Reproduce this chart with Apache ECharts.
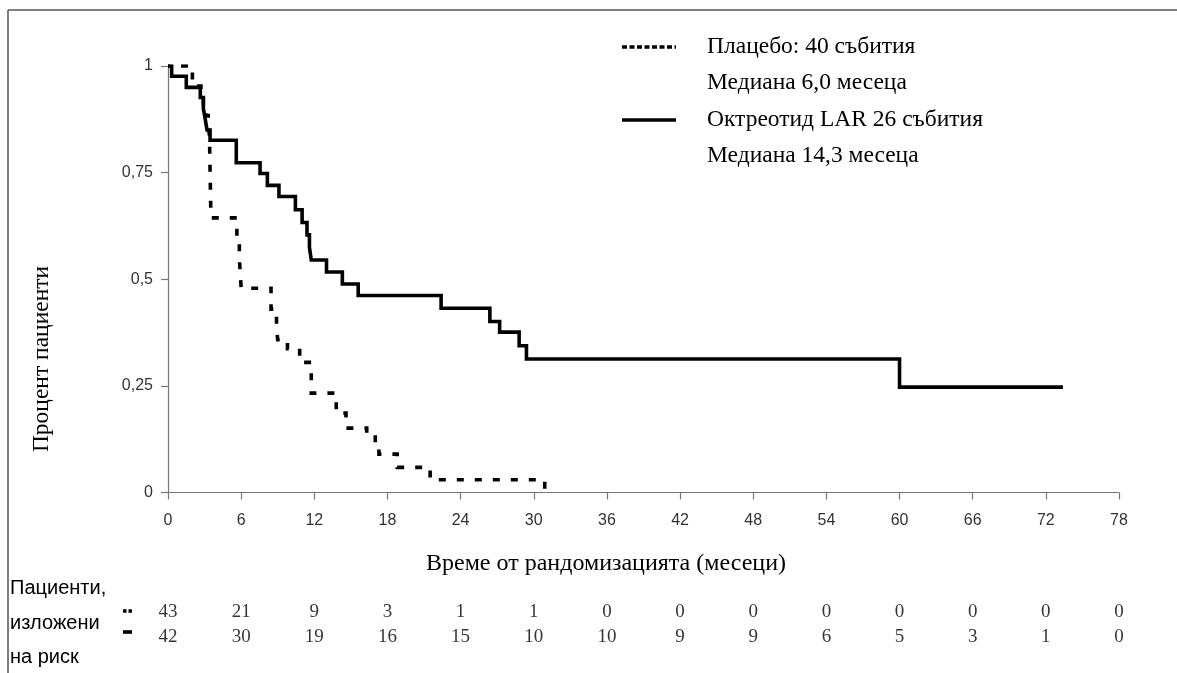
<!DOCTYPE html>
<html>
<head>
<meta charset="utf-8">
<script src="https://cdn.jsdelivr.net/npm/echarts@6/dist/echarts.min.js"></script>
<style>
html,body{margin:0;padding:0;background:#fff;}
#c{width:1177px;height:673px;}
</style>
</head>
<body>
<div id="c"></div>
<script>
// ---- data ----
const octreoTimes = [0, 0.3, 1.5, 2.65, 2.9, 3.05, 3.2, 3.45, 5.6, 7.55, 8.15, 9.1, 10.45, 11.0, 11.4, 11.6, 11.75, 13.0, 14.3, 15.6, 22.4, 26.4, 27.2, 28.8, 29.4, 60.0, 73.4];
const octreoSurv  = [1, 0.976, 0.95, 0.926, 0.90, 0.876, 0.85, 0.826, 0.773, 0.748, 0.72, 0.694, 0.663, 0.633, 0.604, 0.575, 0.545, 0.517, 0.489, 0.462, 0.432, 0.401, 0.376, 0.344, 0.313, 0.247, 0.247];

const placeboTimes = [0, 2.0, 2.7, 2.9, 3.1, 3.3, 3.4, 3.52, 5.65, 5.85, 6.0, 8.45, 8.9, 9.0, 9.8, 10.8, 11.75, 13.8, 14.6, 16.3, 17.0, 17.3, 18.8, 21.5, 30.9, 31.3];
const placeboSurv  = [1, 0.953, 0.93, 0.907, 0.884, 0.86, 0.837, 0.644, 0.60, 0.55, 0.479, 0.43, 0.385, 0.358, 0.337, 0.305, 0.233, 0.186, 0.151, 0.14, 0.116, 0.09, 0.059, 0.030, 0.0, 0.0];

const xTicks = [0, 6, 12, 18, 24, 30, 36, 42, 48, 54, 60, 66, 72, 78];
const yTickValues = [0, 0.25, 0.5, 0.75, 1];
const yTickLabels = ['0', '0,25', '0,5', '0,75', '1'];

const atRiskTimes = [0, 6, 12, 18, 24, 30, 36, 42, 48, 54, 60, 66, 72, 78];
const atRiskPlacebo = [43, 21, 9, 3, 1, 1, 0, 0, 0, 0, 0, 0, 0, 0];
const atRiskOctreo  = [42, 30, 19, 16, 15, 10, 10, 9, 9, 6, 5, 3, 1, 0];

const legendTexts = ['Плацебо: 40 събития', 'Медиана 6,0 месеца', 'Октреотид LAR 26 събития', 'Медиана 14,3 месеца'];
const xTitle = 'Време от рандомизацията (месеци)';
const yTitle = 'Процент пациенти';
const riskLabel = ['Пациенти,', 'изложени', 'на риск'];

// ---- chart ----
const SERIF = '"Liberation Serif", "DejaVu Serif", serif';
const SANS = '"Liberation Sans", Arial, sans-serif';
const chart = echarts.init(document.getElementById('c'), null, {renderer: 'canvas'});

const zip = (a, b) => a.map((v, i) => [v, b[i]]);

const option = {
  animation: false,
  backgroundColor: '#fff',
  grid: [
    {left: 168, right: 58, top: 66, bottom: 180.5},
    {left: 168, right: 58, top: 600, height: 50}
  ],
  xAxis: [
    {
      type: 'value', gridIndex: 0, min: 0, max: 78, interval: 6,
      axisLine: {show: true, lineStyle: {color: '#777', width: 1.2}},
      axisTick: {show: true, length: 7, lineStyle: {color: '#777', width: 1.2}},
      axisLabel: {color: '#333', fontFamily: SANS, fontSize: 16, margin: 20},
      splitLine: {show: false}
    },
    {
      type: 'value', gridIndex: 1, min: 0, max: 78, show: false
    }
  ],
  yAxis: [
    {
      type: 'value', gridIndex: 0, min: 0, max: 1, interval: 0.25,
      axisLine: {show: true, lineStyle: {color: '#777', width: 1.2}},
      axisTick: {show: true, length: 7, lineStyle: {color: '#777', width: 1.2}},
      axisLabel: {
        color: '#333', fontFamily: SANS, fontSize: 16, margin: 15,
        formatter: function (v) {
          const i = yTickValues.findIndex(t => Math.abs(t - v) < 1e-9);
          return i >= 0 ? yTickLabels[i] : '';
        }
      },
      splitLine: {show: false}
    },
    {
      type: 'category', gridIndex: 1, data: ['placebo', 'octreo'], inverse: true, show: false
    }
  ],
  series: [
    {
      name: 'Октреотид LAR', type: 'line', step: 'end', xAxisIndex: 0, yAxisIndex: 0,
      data: zip(octreoTimes, octreoSurv), showSymbol: false, symbol: 'none',
      lineStyle: {color: '#000', width: 3.6, join: 'miter', cap: 'butt'}
    },
    {
      name: 'Плацебо', type: 'line', step: 'end', xAxisIndex: 0, yAxisIndex: 0,
      data: zip(placeboTimes, placeboSurv), showSymbol: false, symbol: 'none',
      lineStyle: {color: '#000', width: 3.6, type: [7, 11], dashOffset: 5, cap: 'butt', join: 'miter'}
    },
    {
      type: 'scatter', xAxisIndex: 1, yAxisIndex: 1, symbolSize: 0.01,
      itemStyle: {color: 'rgba(0,0,0,0)'},
      label: {show: true, position: 'inside', color: '#000', fontFamily: SERIF, fontSize: 19,
        formatter: p => String(p.value[2])},
      data: atRiskTimes.map((t, i) => [t, 'placebo', atRiskPlacebo[i]])
    },
    {
      type: 'scatter', xAxisIndex: 1, yAxisIndex: 1, symbolSize: 0.01,
      itemStyle: {color: 'rgba(0,0,0,0)'},
      label: {show: true, position: 'inside', color: '#000', fontFamily: SERIF, fontSize: 19,
        formatter: p => String(p.value[2])},
      data: atRiskTimes.map((t, i) => [t, 'octreo', atRiskOctreo[i]])
    }
  ],
  graphic: [
    // frame lines (top and left)
    {type: 'line', shape: {x1: 8, y1: 10, x2: 1177, y2: 10}, style: {stroke: '#555', lineWidth: 1.5}},
    {type: 'line', shape: {x1: 8, y1: 10, x2: 8, y2: 673}, style: {stroke: '#555', lineWidth: 1.5}},
    // legend samples
    {type: 'line', shape: {x1: 622, y1: 47, x2: 676, y2: 47}, style: {stroke: '#000', lineWidth: 3.5, lineDash: [5, 2.5]}},
    {type: 'line', shape: {x1: 622, y1: 120, x2: 676, y2: 120}, style: {stroke: '#000', lineWidth: 3.6}},
    // legend texts
    {type: 'text', x: 707, y: 47, style: {text: legendTexts[0], font: '23.5px ' + SERIF, fill: '#000', verticalAlign: 'middle'}},
    {type: 'text', x: 707, y: 83, style: {text: legendTexts[1], font: '23.5px ' + SERIF, fill: '#000', verticalAlign: 'middle'}},
    {type: 'text', x: 707, y: 120, style: {text: legendTexts[2], font: '23.5px ' + SERIF, fill: '#000', verticalAlign: 'middle'}},
    {type: 'text', x: 707, y: 156, style: {text: legendTexts[3], font: '23.5px ' + SERIF, fill: '#000', verticalAlign: 'middle'}},
    // axis titles
    {type: 'text', x: 606, y: 564, style: {text: xTitle, font: '24px ' + SERIF, fill: '#000', align: 'center', verticalAlign: 'middle'}},
    {type: 'text', x: 42, y: 359, rotation: Math.PI / 2, style: {text: yTitle, font: '23.5px ' + SERIF, fill: '#000', align: 'center', verticalAlign: 'middle'}},
    // at-risk row labels
    {type: 'text', x: 10, y: 588, style: {text: riskLabel[0], font: '20px ' + SANS, fill: '#000', verticalAlign: 'middle'}},
    {type: 'text', x: 10, y: 623, style: {text: riskLabel[1], font: '20px ' + SANS, fill: '#000', verticalAlign: 'middle'}},
    {type: 'text', x: 10, y: 657, style: {text: riskLabel[2], font: '20px ' + SANS, fill: '#000', verticalAlign: 'middle'}},
    // at-risk markers
    {type: 'line', shape: {x1: 123, y1: 611, x2: 132, y2: 611}, style: {stroke: '#000', lineWidth: 3.5, lineDash: [3.5, 2]}},
    {type: 'line', shape: {x1: 123, y1: 632, x2: 132, y2: 632}, style: {stroke: '#000', lineWidth: 3.6}}
  ]
};
chart.setOption(option);
</script>
</body>
</html>
